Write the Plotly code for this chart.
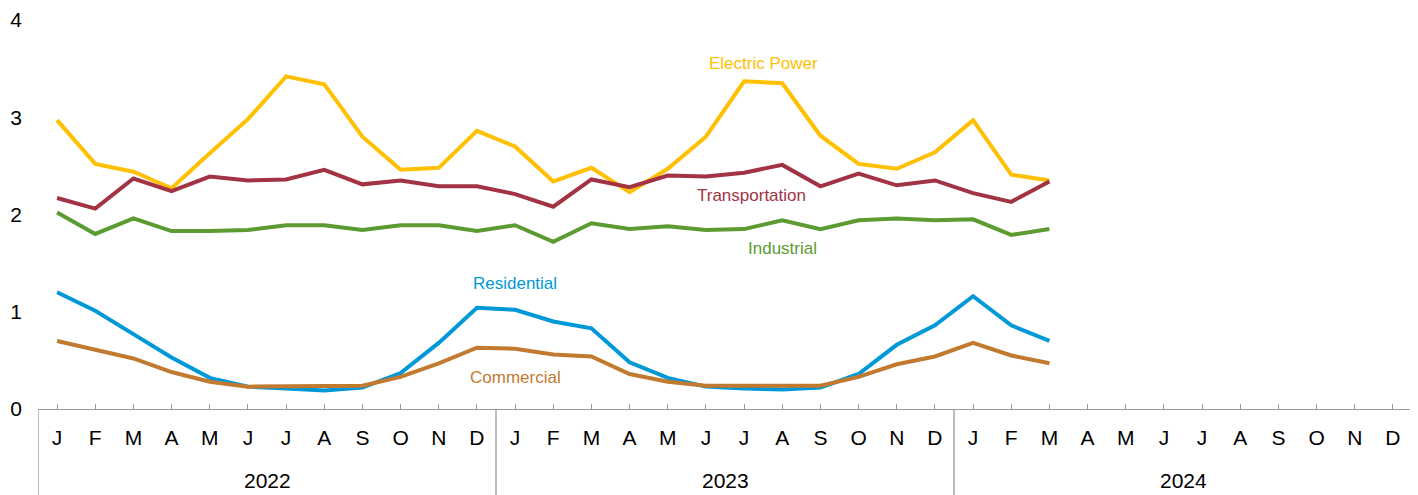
import plotly.graph_objects as go

# months Jan 2022 .. Dec 2024 (data through Mar 2024)
meses = ["J", "F", "M", "A", "M", "J", "J", "A", "S", "O", "N", "D"] * 3
anios = ["2022", "2023", "2024"]

electric_power = [2.97, 2.52, 2.44, 2.27, 2.63, 2.98, 3.42, 3.34, 2.80, 2.46, 2.48, 2.86,
                  2.70, 2.34, 2.48, 2.23, 2.47, 2.80, 3.37, 3.35, 2.81, 2.52, 2.47, 2.64,
                  2.97, 2.41, 2.35]
transportation = [2.17, 2.06, 2.37, 2.24, 2.39, 2.35, 2.36, 2.46, 2.31, 2.35, 2.29, 2.29,
                  2.21, 2.08, 2.36, 2.28, 2.40, 2.39, 2.43, 2.51, 2.29, 2.42, 2.30, 2.35,
                  2.22, 2.13, 2.34]
industrial = [2.02, 1.80, 1.96, 1.83, 1.83, 1.84, 1.89, 1.89, 1.84, 1.89, 1.89, 1.83,
              1.89, 1.72, 1.91, 1.85, 1.88, 1.84, 1.85, 1.94, 1.85, 1.94, 1.96, 1.94,
              1.95, 1.79, 1.85]
residential = [1.20, 1.01, 0.77, 0.53, 0.32, 0.23, 0.21, 0.19, 0.22, 0.37, 0.68, 1.04,
               1.02, 0.90, 0.83, 0.48, 0.32, 0.23, 0.21, 0.20, 0.22, 0.36, 0.66, 0.86,
               1.16, 0.86, 0.70]
commercial = [0.70, 0.61, 0.52, 0.38, 0.28, 0.23, 0.23, 0.23, 0.24, 0.33, 0.47, 0.63,
              0.62, 0.56, 0.54, 0.36, 0.28, 0.24, 0.24, 0.24, 0.24, 0.33, 0.46, 0.54,
              0.68, 0.55, 0.47]

series = [
    ("Electric Power", electric_power, "#FFC000", 18.5, 3.55),
    ("Transportation", transportation, "#A23344", 18.2, 2.20),
    ("Industrial", industrial, "#5B9B32", 19.0, 1.65),
    ("Residential", residential, "#0099D8", 12.0, 1.29),
    ("Commercial", commercial, "#C27A30", 12.0, 0.32),
]

FUENTE = "Liberation Sans, Arial"

fig = go.Figure()
for nombre, valores, color, lx, ly in series:
    fig.add_trace(go.Scatter(
        x=list(range(len(valores))), y=valores, mode="lines", name=nombre,
        line=dict(color=color, width=4), showlegend=False
    ))
    fig.add_annotation(x=lx, y=ly, text=nombre, showarrow=False,
                       font=dict(color=color, size=17, family=FUENTE))

# year labels and separators under the month axis
for i, anio in enumerate(anios):
    fig.add_annotation(x=i * 12 + 5.5, y=-0.1838, yref="paper", yanchor="middle",
                       text=anio, showarrow=False,
                       font=dict(size=21, color="black", family=FUENTE))
for b in [-0.5, 11.5, 23.5]:
    fig.add_shape(type="line", x0=b, x1=b, y0=0, y1=-0.23, yref="paper",
                  line=dict(color="#9a9a9a", width=1.3))
fig.add_shape(type="line", x0=35.5, x1=35.5, y0=0.013, y1=-0.23, yref="paper",
              line=dict(color="#9a9a9a", width=1.3))

# page body has an 8px margin, so the figure is a bit smaller than the window
fig.update_layout(
    width=1410, height=487,
    margin=dict(l=30, r=6, t=12, b=86),
    plot_bgcolor="white", paper_bgcolor="white",
    font=dict(family=FUENTE, color="black", size=21),
    xaxis=dict(
        range=[-0.5, 35.5], tickmode="array", tickvals=list(range(36)), ticktext=meses,
        showgrid=False, zeroline=False, showline=True, linecolor="#9a9a9a", linewidth=1.3,
        ticks="inside", ticklen=5, tickcolor="#9a9a9a", tickfont=dict(size=21),
        ticklabelstandoff=10, automargin=False,
    ),
    yaxis=dict(
        range=[0, 4], tickvals=[0, 1, 2, 3, 4], showgrid=False, zeroline=False,
        showline=False, ticks="", tickfont=dict(size=21), ticklabelstandoff=15,
        automargin=False, ticklabeloverflow="allow",
    ),
)

fig.write_html("out.html")
